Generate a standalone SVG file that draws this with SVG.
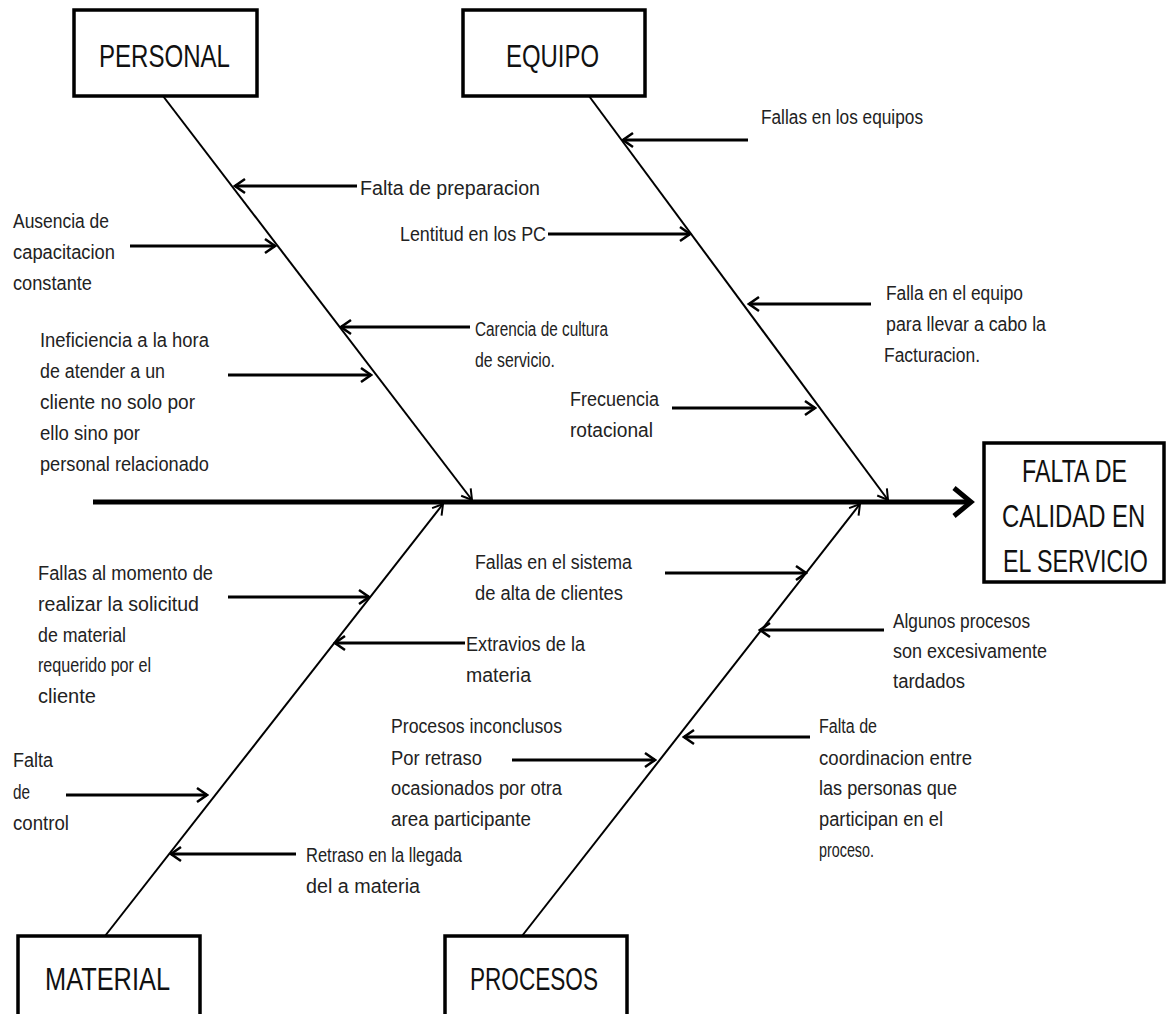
<svg xmlns="http://www.w3.org/2000/svg" width="1167" height="1014" viewBox="0 0 1167 1014">
<style>
.bg{fill:#fff}
.box{fill:#fff;stroke:#000;stroke-width:3.5}
.lbl{font-family:"Liberation Sans",Arial,sans-serif;font-size:32px;fill:#111}
.t{font-family:"Liberation Sans",Arial,sans-serif;font-size:20px;fill:#222}
.bone{stroke:#000;stroke-width:2;fill:none}
.sub{stroke:#000;stroke-width:3;fill:none;marker-end:url(#ah)}
.spine{stroke:#000;stroke-width:5;fill:none;marker-end:url(#sh)}
</style>
<defs>
<marker id="ah" markerWidth="14" markerHeight="18" refX="12" refY="9" orient="auto" markerUnits="userSpaceOnUse">
<path d="M2,2 L12,9 L2,16" fill="none" stroke="#000" stroke-width="2.5"/>
</marker>
<marker id="bh" markerWidth="14" markerHeight="18" refX="12" refY="9" orient="auto" markerUnits="userSpaceOnUse">
<path d="M2,3 L12,9 L2,15" fill="none" stroke="#000" stroke-width="2"/>
</marker>
<marker id="sh" markerWidth="24" markerHeight="34" refX="20" refY="17" orient="auto" markerUnits="userSpaceOnUse">
<path d="M3,3 L20,17 L3,31" fill="none" stroke="#000" stroke-width="5"/>
</marker>
</defs>
<rect class="bg" x="0" y="0" width="1167" height="1014"/>

<g id="connectors">
<line class="spine" x1="93" y1="502" x2="971" y2="502"/>
<line class="bone" x1="163" y1="96" x2="472" y2="500" marker-end="url(#bh)"/>
<line class="bone" x1="589" y1="96" x2="888" y2="500" marker-end="url(#bh)"/>
<line class="bone" x1="105" y1="936" x2="443" y2="504" marker-end="url(#bh)"/>
<line class="bone" x1="522" y1="936" x2="860" y2="504" marker-end="url(#bh)"/>
<line class="sub" x1="357" y1="186" x2="235" y2="186"/>
<line class="sub" x1="130" y1="246" x2="275" y2="246"/>
<line class="sub" x1="470" y1="327" x2="341" y2="327"/>
<line class="sub" x1="228" y1="375" x2="371" y2="375"/>
<line class="sub" x1="748" y1="140" x2="623" y2="140"/>
<line class="sub" x1="548" y1="234" x2="690" y2="234"/>
<line class="sub" x1="871" y1="304" x2="749" y2="304"/>
<line class="sub" x1="672" y1="408" x2="815" y2="408"/>
<line class="sub" x1="228" y1="597" x2="369" y2="597"/>
<line class="sub" x1="465" y1="643" x2="335" y2="643"/>
<line class="sub" x1="66" y1="795" x2="207" y2="795"/>
<line class="sub" x1="296" y1="854" x2="171" y2="854"/>
<line class="sub" x1="665" y1="573" x2="806" y2="573"/>
<line class="sub" x1="884" y1="630" x2="760" y2="630"/>
<line class="sub" x1="512" y1="760" x2="655" y2="760"/>
<line class="sub" x1="810" y1="737" x2="684" y2="737"/>
</g>

<g id="node-personal">
<rect class="box" x="74" y="10" width="183" height="86"/>
<text class="lbl" x="99" y="67" textLength="131" lengthAdjust="spacingAndGlyphs">PERSONAL</text>
</g>
<g id="node-equipo">
<rect class="box" x="463" y="10" width="182" height="86"/>
<text class="lbl" x="506" y="67" textLength="93" lengthAdjust="spacingAndGlyphs">EQUIPO</text>
</g>
<g id="node-material">
<rect class="box" x="18" y="936" width="182" height="95"/>
<text class="lbl" x="45" y="990" textLength="125" lengthAdjust="spacingAndGlyphs">MATERIAL</text>
</g>
<g id="node-procesos">
<rect class="box" x="445" y="936" width="182" height="95"/>
<text class="lbl" x="470" y="990" textLength="128" lengthAdjust="spacingAndGlyphs">PROCESOS</text>
</g>
<g id="node-efecto">
<rect class="box" x="984" y="443" width="180" height="139"/>
<text class="lbl" transform="translate(1022,482) scale(0.72,1)" x="0" y="0" textLength="146" lengthAdjust="spacingAndGlyphs">FALTA DE</text>
<text class="lbl" transform="translate(1002,527) scale(0.72,1)" x="0" y="0" textLength="199" lengthAdjust="spacingAndGlyphs">CALIDAD EN</text>
<text class="lbl" transform="translate(1003,572) scale(0.72,1)" x="0" y="0" textLength="201" lengthAdjust="spacingAndGlyphs">EL SERVICIO</text>
</g>

<g id="cause-falta-preparacion">
<text class="t" x="360" y="195" textLength="180" lengthAdjust="spacingAndGlyphs">Falta de preparacion</text>
</g>
<g id="cause-ausencia">
<text class="t" x="13" y="228" textLength="96" lengthAdjust="spacingAndGlyphs">Ausencia de</text>
<text class="t" x="13" y="259" textLength="102" lengthAdjust="spacingAndGlyphs">capacitacion</text>
<text class="t" x="13" y="290" textLength="79" lengthAdjust="spacingAndGlyphs">constante</text>
</g>
<g id="cause-carencia">
<text class="t" x="475" y="336" textLength="133" lengthAdjust="spacingAndGlyphs">Carencia de cultura</text>
<text class="t" x="475" y="367" textLength="80" lengthAdjust="spacingAndGlyphs">de servicio.</text>
</g>
<g id="cause-ineficiencia">
<text class="t" x="40" y="347" textLength="169" lengthAdjust="spacingAndGlyphs">Ineficiencia a la hora</text>
<text class="t" x="40" y="378" textLength="125" lengthAdjust="spacingAndGlyphs">de atender  a un</text>
<text class="t" x="40" y="409" textLength="155" lengthAdjust="spacingAndGlyphs">cliente  no solo por</text>
<text class="t" x="40" y="440" textLength="100" lengthAdjust="spacingAndGlyphs">ello sino por</text>
<text class="t" x="40" y="471" textLength="169" lengthAdjust="spacingAndGlyphs">personal relacionado</text>
</g>
<g id="cause-fallas-equipos">
<text class="t" x="761" y="124" textLength="162" lengthAdjust="spacingAndGlyphs">Fallas en los equipos</text>
</g>
<g id="cause-lentitud">
<text class="t" x="400" y="241" textLength="146" lengthAdjust="spacingAndGlyphs">Lentitud  en los PC</text>
</g>
<g id="cause-falla-equipo">
<text class="t" x="886" y="300" textLength="137" lengthAdjust="spacingAndGlyphs">Falla en el equipo</text>
<text class="t" x="886" y="331" textLength="160" lengthAdjust="spacingAndGlyphs">para llevar a cabo la</text>
<text class="t" x="884" y="362" textLength="96" lengthAdjust="spacingAndGlyphs">Facturacion.</text>
</g>
<g id="cause-frecuencia">
<text class="t" x="570" y="406" textLength="89" lengthAdjust="spacingAndGlyphs">Frecuencia</text>
<text class="t" x="570" y="437" textLength="83" lengthAdjust="spacingAndGlyphs">rotacional</text>
</g>
<g id="cause-fallas-momento">
<text class="t" x="38" y="580" textLength="175" lengthAdjust="spacingAndGlyphs">Fallas al momento de</text>
<text class="t" x="38" y="611" textLength="161" lengthAdjust="spacingAndGlyphs">realizar la solicitud</text>
<text class="t" x="38" y="642" textLength="88" lengthAdjust="spacingAndGlyphs">de material</text>
<text class="t" x="38" y="672" textLength="113" lengthAdjust="spacingAndGlyphs">requerido por  el</text>
<text class="t" x="38" y="703" textLength="58" lengthAdjust="spacingAndGlyphs">cliente</text>
</g>
<g id="cause-extravios">
<text class="t" x="466" y="651" textLength="119" lengthAdjust="spacingAndGlyphs">Extravios de la</text>
<text class="t" x="466" y="682" textLength="65" lengthAdjust="spacingAndGlyphs">materia</text>
</g>
<g id="cause-falta-control">
<text class="t" x="13" y="767" textLength="40" lengthAdjust="spacingAndGlyphs">Falta</text>
<text class="t" x="13" y="799" textLength="17" lengthAdjust="spacingAndGlyphs">de</text>
<text class="t" x="13" y="830" textLength="56" lengthAdjust="spacingAndGlyphs">control</text>
</g>
<g id="cause-retraso">
<text class="t" x="306" y="862" textLength="156" lengthAdjust="spacingAndGlyphs">Retraso en la llegada</text>
<text class="t" x="306" y="893" textLength="114" lengthAdjust="spacingAndGlyphs">del a materia</text>
</g>
<g id="cause-fallas-sistema">
<text class="t" x="475" y="569" textLength="157" lengthAdjust="spacingAndGlyphs">Fallas en el sistema</text>
<text class="t" x="475" y="600" textLength="148" lengthAdjust="spacingAndGlyphs">de alta de clientes</text>
</g>
<g id="cause-algunos">
<text class="t" x="893" y="628" textLength="137" lengthAdjust="spacingAndGlyphs">Algunos procesos</text>
<text class="t" x="893" y="658" textLength="154" lengthAdjust="spacingAndGlyphs">son excesivamente</text>
<text class="t" x="893" y="688" textLength="72" lengthAdjust="spacingAndGlyphs">tardados</text>
</g>
<g id="cause-procesos-inconclusos">
<text class="t" x="391" y="733" textLength="171" lengthAdjust="spacingAndGlyphs">Procesos inconclusos</text>
<text class="t" x="391" y="765" textLength="91" lengthAdjust="spacingAndGlyphs">Por retraso</text>
<text class="t" x="391" y="795" textLength="171" lengthAdjust="spacingAndGlyphs">ocasionados por otra</text>
<text class="t" x="391" y="826" textLength="140" lengthAdjust="spacingAndGlyphs">area participante</text>
</g>
<g id="cause-falta-coordinacion">
<text class="t" x="819" y="733" textLength="58" lengthAdjust="spacingAndGlyphs">Falta de</text>
<text class="t" x="819" y="765" textLength="153" lengthAdjust="spacingAndGlyphs">coordinacion entre</text>
<text class="t" x="819" y="795" textLength="138" lengthAdjust="spacingAndGlyphs">las  personas que</text>
<text class="t" x="819" y="826" textLength="124" lengthAdjust="spacingAndGlyphs">participan en el</text>
<text class="t" x="819" y="857" textLength="55" lengthAdjust="spacingAndGlyphs">proceso.</text>
</g>
</svg>
